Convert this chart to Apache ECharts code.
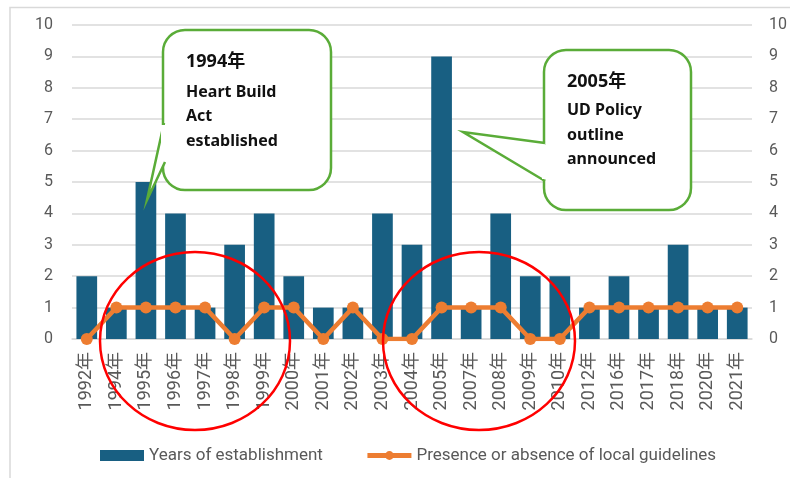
<!DOCTYPE html>
<html>
<head>
<meta charset="UTF-8">
<title>chart</title>
<script src="https://cdn.jsdelivr.net/npm/echarts@6/dist/echarts.min.js"></script>
<style>
  html, body { margin: 0; padding: 0; background: #fff; }
  #main { width: 790px; height: 478px; }
</style>
</head>
<body>
<div id="main"></div>
<script>
// categories (years)
var years = ['1992年','1994年','1995年','1996年','1997年','1998年','1999年','2000年','2001年','2002年','2003年','2004年',
             '2005年','2007年','2008年','2009年','2010年','2012年','2016年','2017年','2018年','2020年','2021年'];
// number established per year
var established = [2, 1, 5, 4, 1, 3, 4, 2, 1, 1, 4, 3, 9, 1, 4, 2, 2, 1, 2, 1, 3, 1, 1];
// local guidelines present (1) / absent (0)
var guidelines = [0, 1, 1, 1, 1, 0, 1, 1, 0, 1, 0, 0, 1, 1, 1, 0, 0, 1, 1, 1, 1, 1, 1];

var axisFont = 'Roboto, "Noto Sans CJK JP", sans-serif';
var legendFont = '"Liberation Sans Narrow", Roboto, sans-serif';
var boxFont = '"Noto Sans", "Noto Sans CJK JP", sans-serif';
var grey = '#595959';

var myChart = echarts.init(document.getElementById('main'));

function callout(x, y, w, h, tail, lines) {
    // rounded box + pointer
    var els = [];
    els.push({
        type: 'rect',
        shape: { x: x, y: y, width: w, height: h, r: 22 },
        style: { stroke: '#5aac38', lineWidth: 2.5, fill: '#fff' },
        z: 11
    });
    els.push({
        type: 'polyline',
        shape: { points: tail },
        style: { stroke: '#5aac38', lineWidth: 2.5, fill: '#fff' },
        z: 12
    });
    // open the box edge where the pointer joins it
    els.push({
        type: 'rect',
        shape: { x: x - 2, y: tail[0][1] + 2, width: 6, height: tail[2][1] - tail[0][1] - 4 },
        style: { fill: '#fff' },
        z: 13
    });
    for (var i = 0; i < lines.length; i++) {
        els.push({
            type: 'text',
            x: x + 23,
            y: lines[i][1],
            style: {
                text: lines[i][0],
                font: 'bold ' + (i === 0 ? 18 : 16) + 'px ' + boxFont,
                fill: '#111',
                textVerticalAlign: 'middle'
            },
            z: 14
        });
    }
    return els;
}

var graphics = [
    { type: 'polyline', shape: { points: [[10, 478], [10, 7.5], [790, 7.5]] },
      style: { stroke: '#d9d9d9', lineWidth: 1.5, fill: null }, z: 1 },
    { type: 'ellipse', shape: { cx: 195, cy: 341, rx: 95, ry: 89 },
      style: { stroke: '#ff0000', lineWidth: 2.5, fill: null }, z: 20 },
    { type: 'ellipse', shape: { cx: 479, cy: 341, rx: 96, ry: 89 },
      style: { stroke: '#ff0000', lineWidth: 2.5, fill: null }, z: 20 }
].concat(
    callout(163, 30, 168, 160, [[164, 123], [147, 200], [165, 162]],
        [['1994年', 62], ['Heart Build', 92], ['Act', 116], ['established', 141]]),
    callout(544, 50, 147, 160, [[545, 143], [463, 132], [545, 181]],
        [['2005年', 82], ['UD Policy', 110], ['outline', 135], ['announced', 159]])
);

var option = {
    animation: false,
    color: ['#185f82', '#ed7d31'],
    grid: { left: 72, right: 32, top: 25, bottom: 139 },
    legend: {
        top: 442,
        left: 95,
        itemGap: 42,
        itemWidth: 44,
        itemHeight: 11,
        textStyle: { color: grey, fontSize: 17, fontFamily: legendFont },
        data: [
            { name: 'Years of establishment', icon: 'rect' },
            { name: 'Presence or absence of local guidelines', lineStyle: { width: 5 } }
        ]
    },
    xAxis: {
        type: 'category',
        data: years,
        axisLine: { lineStyle: { color: '#d9d9d9', width: 1.5 } },
        axisTick: { show: false },
        axisLabel: { rotate: 90, color: grey, fontSize: 18, fontFamily: axisFont, margin: 13, interval: 0 }
    },
    yAxis: [
        {
            type: 'value', min: 0, max: 10, interval: 1,
            axisLine: { show: false }, axisTick: { show: false },
            axisLabel: { color: grey, fontSize: 16, fontFamily: axisFont, margin: 19 },
            splitLine: { lineStyle: { color: '#d9d9d9', width: 1.5 } }
        },
        {
            type: 'value', min: 0, max: 10, interval: 1, position: 'right',
            axisLine: { show: false }, axisTick: { show: false },
            axisLabel: { color: grey, fontSize: 16, fontFamily: axisFont, margin: 17 },
            splitLine: { show: false }
        }
    ],
    series: [
        {
            name: 'Years of establishment',
            type: 'bar',
            data: established,
            barWidth: '70%',
            itemStyle: { color: '#185f82' },
            z: 2
        },
        {
            name: 'Presence or absence of local guidelines',
            type: 'line',
            yAxisIndex: 1,
            data: guidelines,
            symbol: 'circle',
            symbolSize: 12,
            lineStyle: { color: '#ed7d31', width: 4.5 },
            itemStyle: { color: '#ed7d31' },
            z: 3
        }
    ],
    graphic: graphics
};

myChart.setOption(option);
</script>
</body>
</html>
